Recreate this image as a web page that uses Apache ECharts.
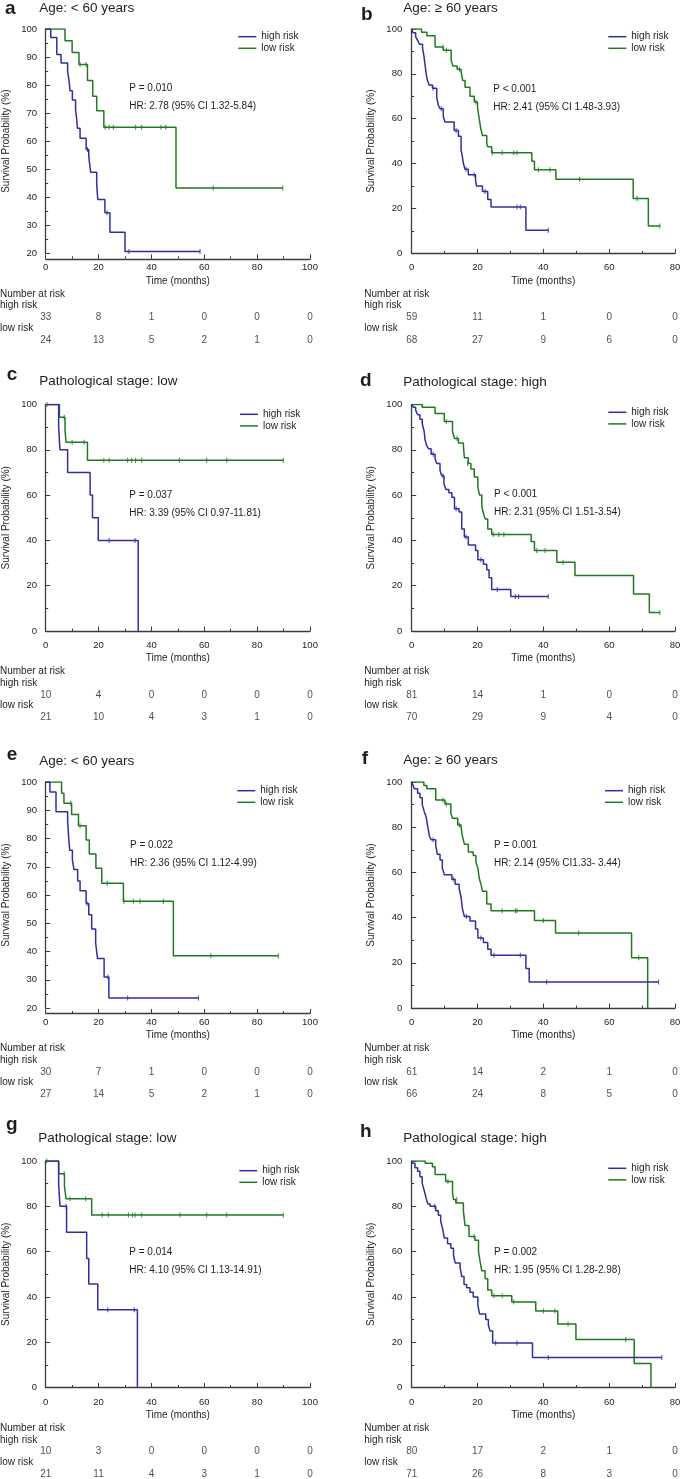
<!DOCTYPE html>
<html>
<head>
<meta charset="utf-8">
<script src="https://cdn.jsdelivr.net/npm/echarts@6/dist/echarts.min.js"></script>
<style>
html,body{margin:0;padding:0;background:#fff;}
#chart{width:685px;height:1479px;}
</style>
</head>
<body>
<div id="chart"></div>
<script>
// ---- data: [time (months), survival %] ----
var aHigh = [[0,100],[1.9,97.0],[4.2,90.9],[5.8,87.9],[8.3,84.8],[8.8,81.8],[9.2,78.0],[10.1,74.7],[11.3,71.3],[11.7,68.0],[12.0,64.6],[13.0,61.0],[15.3,57.0],[16.3,54.5],[17.0,48.9],[19.3,44.4],[19.7,39.2],[22.4,34.5],[24.3,27.5],[30.0,20.6],[58.4,20.6]];
var aLow = [[0,100],[7.3,95.8],[10.0,91.6],[12.6,87.3],[15.8,81.6],[17.8,76.0],[19.3,70.8],[22.0,65.0],[49.3,43.3],[89.7,43.3]];
var aHighCens = [[15.8,57.0],[23.2,34.5],[31.5,20.6],[58.4,20.6]];
var aLowCens = [[13.0,87.3],[15.3,87.3],[22.5,65],[24.0,65],[25.6,65],[34.0,65],[36.3,65],[43.6,65],[45.4,65],[63.4,43.3],[89.7,43.3]];

var bHigh = [[0,100],[0.4,98.3],[1.2,96.6],[1.8,94.9],[2.4,93.2],[3.3,91.5],[3.7,88.1],[4.0,84.7],[4.4,80.0],[4.8,77.0],[5.3,75.0],[6.3,73.6],[7.6,69.5],[8.1,66.0],[8.6,64.5],[9.6,61.0],[10.1,58.5],[12.9,54.7],[14.2,52.2],[15.0,46.0],[15.3,44.0],[15.7,40.0],[16.2,37.5],[17.2,35.0],[19.4,32.5],[19.7,30.0],[21.5,27.5],[23.1,24.0],[24.1,20.6],[34.7,10.3],[41.5,10.3]];
var bLow = [[0,100],[3.0,98.5],[4.6,97.0],[7.1,92.0],[9.6,90.5],[12.0,86.0],[12.5,83.5],[13.8,82.0],[15.0,81.0],[15.5,77.0],[16.2,74.0],[17.7,70.0],[19.0,67.5],[20.0,65.0],[20.5,60.0],[21.0,55.5],[21.5,52.5],[22.8,49.0],[23.1,47.5],[24.3,44.8],[36.5,41.0],[37.3,37.3],[43.8,33.0],[67.3,24.4],[71.9,12.2],[75.4,12.2]];
var bHighCens = [[6.5,73.6],[9.0,64.5],[13.5,54.7],[16.5,37.5],[19.0,35.0],[22.3,27.5],[32.0,20.6],[33.0,20.6],[41.5,10.3]];
var bLowCens = [[9.5,92.0],[10.5,90.5],[14.5,82.0],[19.5,67.5],[24.5,44.8],[27.5,44.8],[31.0,44.8],[32.0,44.8],[38.5,37.3],[42.0,37.3],[51.0,33.0],[68.5,24.4],[75.4,12.2]];

var cHigh = [[0,100],[4.9,90],[5.4,80],[8.3,70],[16.8,60],[17.7,50],[19.9,40],[35.0,0]];
var cLow = [[0,100],[5.2,94.4],[7.3,88.9],[7.7,83.3],[15.8,75.4],[89.9,75.4]];
var cHighCens = [[24.0,40],[33.8,40]];
var cLowCens = [[0.5,100],[7.0,94.4],[10.0,83.3],[14.5,83.3],[22.0,75.4],[24.0,75.4],[31.0,75.4],[32.5,75.4],[34.0,75.4],[36.3,75.4],[50.6,75.4],[60.9,75.4],[68.5,75.4],[89.9,75.4]];

var dHigh = [[0,100],[0.5,98.8],[1.2,97.5],[1.8,95.5],[2.5,93.5],[3.2,91.5],[3.8,88.0],[4.05,84.5],[4.5,82.0],[5.1,80.5],[5.9,78.0],[7.1,76.0],[7.6,74.0],[8.6,71.0],[9.1,68.5],[9.8,65.0],[10.4,62.5],[11.3,61.0],[12.2,59.0],[13.0,54.0],[14.4,52.5],[15.2,45.0],[16.0,41.5],[17.2,38.0],[19.4,35.5],[20.1,31.5],[21.8,29.5],[22.8,27.0],[23.5,23.5],[24.3,18.3],[30.1,15.2],[41.5,15.2]];
var dLow = [[0,100],[3.2,98.8],[7.1,96.0],[9.9,92.5],[12.4,88.0],[13.0,85.0],[14.2,83.0],[15.7,82.0],[16.0,76.5],[17.2,74.0],[18.0,71.5],[19.0,68.0],[20.1,63.5],[20.6,60.0],[21.3,55.0],[21.8,52.0],[22.3,49.5],[23.1,45.0],[24.3,42.6],[36.3,39.5],[37.3,35.5],[44.1,30.4],[49.6,24.5],[67.4,16.3],[72.2,8.2],[75.4,8.2]];
var dHighCens = [[6.5,78.0],[9.5,68.5],[13.5,54.0],[16.5,41.5],[21.0,31.5],[26.0,18.3],[31.5,15.2],[32.5,15.2],[41.5,15.2]];
var dLowCens = [[10.5,92.5],[13.8,85.0],[17.0,74.0],[24.8,42.6],[26.5,42.6],[28.0,42.6],[38.0,35.5],[40.5,35.5],[46.0,30.4],[75.4,8.2]];

var eHigh = [[0,100],[1.6,96.5],[3.9,89.5],[8.3,86.0],[8.8,79.0],[9.1,75.8],[10.1,72.4],[10.7,69.0],[12.1,65.0],[13.0,61.5],[15.3,57.0],[16.3,53.0],[17.4,48.0],[18.9,43.0],[19.6,37.5],[22.1,31.0],[23.9,23.5],[57.8,23.5]];
var eLow = [[0,100],[6.0,96.0],[6.9,92.5],[9.8,88.5],[12.4,84.5],[15.3,79.5],[16.5,74.5],[19.0,69.5],[21.2,64.2],[29.4,57.8],[48.3,38.5],[88.0,38.5]];
var eHighCens = [[15.6,57.0],[23.5,31.0],[31.0,23.5],[57.8,23.5]];
var eLowCens = [[9.5,92.5],[13.0,84.5],[23.3,64.2],[29.6,57.8],[33.2,57.8],[35.7,57.8],[44.5,57.8],[62.5,38.5],[88.0,38.5]];

var fHigh = [[0,100],[0.3,99.0],[0.8,97.0],[1.8,95.0],[2.5,93.0],[3.2,90.0],[3.8,87.0],[4.4,84.5],[4.9,80.0],[5.4,76.0],[5.9,74.5],[7.3,72.0],[7.8,68.0],[8.6,65.5],[9.3,62.0],[9.9,59.0],[12.2,57.0],[13.2,54.8],[14.4,53.0],[15.0,49.0],[15.4,44.0],[16.0,40.5],[17.7,38.5],[19.4,35.0],[20.1,31.0],[21.8,29.0],[23.1,26.0],[24.1,23.3],[34.7,17.5],[35.7,11.5],[75.0,11.5]];
var fLow = [[0,100],[3.7,98.5],[4.6,97.0],[7.3,92.0],[10.1,90.3],[11.9,86.0],[12.4,84.0],[14.0,81.0],[15.0,80.0],[15.4,76.0],[16.0,72.5],[17.2,69.0],[18.7,67.5],[19.5,64.5],[20.1,62.0],[20.5,57.5],[21.0,55.0],[21.5,51.7],[22.8,46.0],[24.1,43.0],[37.3,38.7],[43.7,33.2],[66.8,22.2],[71.7,0]];
var fHighCens = [[6.5,74.5],[12.6,57.0],[16.6,40.5],[21.0,31.0],[25.0,23.3],[33.0,23.3],[41.0,11.5],[75.0,11.5]];
var fLowCens = [[9.5,92.0],[10.5,90.3],[14.5,81.0],[27.5,43.0],[31.5,43.0],[32.0,43.0],[40.0,38.7],[50.7,33.2],[69.0,22.2]];

var gHigh = [[0,100],[4.9,90],[5.4,80],[7.9,68.5],[15.5,57.0],[16.3,45.7],[19.7,34.3],[34.7,0]];
var gLow = [[0,100],[4.9,94.4],[7.1,88.9],[7.7,83.3],[17.4,76.2],[89.9,76.2]];
var gHighCens = [[7.7,80],[23.5,34.3],[33.5,34.3]];
var gLowCens = [[0.4,100],[7.0,94.4],[9.2,83.3],[15.1,83.3],[21.4,76.2],[23.7,76.2],[31.3,76.2],[32.8,76.2],[33.8,76.2],[36.3,76.2],[50.8,76.2],[60.9,76.2],[68.5,76.2],[89.9,76.2]];

var hHigh = [[0,100],[0.3,99.0],[1.0,97.0],[1.8,95.5],[2.5,93.0],[3.2,90.0],[3.8,87.0],[4.4,83.5],[4.9,81.0],[5.6,80.0],[7.3,78.0],[8.1,76.0],[8.8,73.5],[9.4,70.0],[9.9,66.0],[10.9,63.5],[11.9,61.5],[12.7,58.5],[13.2,55.0],[14.7,53.0],[15.2,49.0],[15.9,45.5],[16.7,44.0],[17.7,42.0],[18.7,40.0],[20.1,36.5],[20.6,32.5],[22.5,30.0],[23.3,27.5],[23.8,25.0],[24.6,19.7],[36.7,13.3],[76.0,13.3]];
var hLow = [[0,100],[4.1,99.0],[6.3,97.5],[7.1,94.0],[10.3,91.0],[12.4,86.0],[12.7,83.0],[13.4,81.5],[15.7,78.0],[16.2,71.5],[17.4,66.7],[19.2,65.0],[20.3,60.0],[20.8,55.5],[21.3,51.5],[22.3,48.0],[23.1,43.0],[24.3,40.5],[30.4,37.7],[37.7,33.8],[44.4,28.0],[49.9,21.2],[67.6,10.6],[72.7,0]];
var hHighCens = [[7.0,80.0],[25.5,19.7],[32.0,19.7],[41.5,13.3],[76.0,13.3]];
var hLowCens = [[11.0,91.0],[13.7,83.0],[19.0,66.7],[25.0,40.5],[27.5,40.5],[31.0,37.7],[40.0,33.8],[43.5,33.8],[47.5,28.0],[65.0,21.2]];

// number at risk
var riskTimesLeft = [0, 20, 40, 60, 80, 100];
var riskTimesRight = [0, 20, 40, 60, 80];
var aRiskHigh = [33, 8, 1, 0, 0, 0], aRiskLow = [24, 13, 5, 2, 1, 0];
var bRiskHigh = [59, 11, 1, 0, 0], bRiskLow = [68, 27, 9, 6, 0];
var cRiskHigh = [10, 4, 0, 0, 0, 0], cRiskLow = [21, 10, 4, 3, 1, 0];
var dRiskHigh = [81, 14, 1, 0, 0], dRiskLow = [70, 29, 9, 4, 0];
var eRiskHigh = [30, 7, 1, 0, 0, 0], eRiskLow = [27, 14, 5, 2, 1, 0];
var fRiskHigh = [61, 14, 2, 1, 0], fRiskLow = [66, 24, 8, 5, 0];
var gRiskHigh = [10, 3, 0, 0, 0, 0], gRiskLow = [21, 11, 4, 3, 1, 0];
var hRiskHigh = [80, 17, 2, 1, 0], hRiskLow = [71, 26, 8, 3, 0];

// texts
var letters = ['a', 'b', 'c', 'd', 'e', 'f', 'g', 'h'];
var titles = ['Age: < 60 years', 'Age: \u2265 60 years', 'Pathological stage: low', 'Pathological stage: high',
              'Age: < 60 years', 'Age: \u2265 60 years', 'Pathological stage: low', 'Pathological stage: high'];
var pTexts = ['P = 0.010', 'P < 0.001', 'P = 0.037', 'P < 0.001', 'P = 0.022', 'P = 0.001', 'P = 0.014', 'P = 0.002'];
var hrTexts = ['HR: 2.78 (95% CI 1.32-5.84)', 'HR: 2.41 (95% CI 1.48-3.93)', 'HR: 3.39 (95% CI 0.97-11.81)',
               'HR: 2.31 (95% CI 1.51-3.54)', 'HR: 2.36 (95% CI 1.12-4.99)', 'HR: 2.14 (95% CI1.33- 3.44)',
               'HR: 4.10 (95% CI 1.13-14.91)', 'HR: 1.95 (95% CI 1.28-2.98)'];
var yMins = [20, 0, 0, 0, 20, 0, 0, 0];
var yIntervals = [10, 20, 20, 20, 10, 20, 20, 20];

var curves = [
  [aHigh, aLow, aHighCens, aLowCens, aRiskHigh, aRiskLow],
  [bHigh, bLow, bHighCens, bLowCens, bRiskHigh, bRiskLow],
  [cHigh, cLow, cHighCens, cLowCens, cRiskHigh, cRiskLow],
  [dHigh, dLow, dHighCens, dLowCens, dRiskHigh, dRiskLow],
  [eHigh, eLow, eHighCens, eLowCens, eRiskHigh, eRiskLow],
  [fHigh, fLow, fHighCens, fLowCens, fRiskHigh, fRiskLow],
  [gHigh, gLow, gHighCens, gLowCens, gRiskHigh, gRiskLow],
  [hHigh, hLow, hHighCens, hLowCens, hRiskHigh, hRiskLow]
];

// ---- layout ----
var FONT = 'Liberation Sans, Arial, sans-serif';
var BLUE = '#2f2fa3', GREEN = '#217a21', AXIS = '#3c3c3c', TXT = '#1e1e1e';
var rowTop = [29, 404.5, 782, 1161];
var rowH = [224.3, 226.5, 226, 226.5];
var X_OFF = 5.5;
var colGrid = [{left: 45.7, width: 264.3, yOff: 5.7, xMax: 100, labelX: 0},
               {left: 411.7, width: 263.3, yOff: 6.5, xMax: 80, labelX: 364.3}];
var letterPos = [[5, 8.3], [361, 15], [6.7, 374.3], [360, 381], [6.7, 755], [361.7, 759], [6, 1125], [360, 1131.7]];
var titlePos = [[39.3, 8], [403.3, 8], [39.3, 381], [403.3, 382], [39.3, 761], [403.3, 760.3], [38.3, 1138.6], [403.3, 1138.6]];
var pPos = [[129.3, 88.7, 106.7], [493.3, 89.3, 107.3], [129.3, 495.7, 513.3], [494, 494.3, 512.7],
            [130, 845, 863.3], [494, 845, 863.3], [129.3, 1252.3, 1270.7], [494, 1252.3, 1270.7]];
var legendPos = [[238.3, 36.7], [608.3, 36.7], [240, 414.3], [608.3, 412.3],
                 [237.3, 790.7], [605, 790.7], [239.3, 1170.7], [608.3, 1168.3]];

var grids = [], xAxes = [], yAxes = [], series = [], legends = [], graphics = [];

function txt(x, y, s, size, weight) {
  graphics.push({type: 'text', x: x, y: y, silent: true,
    style: {text: s, fontSize: size, fontWeight: weight || 'normal', fontFamily: FONT, fill: TXT, verticalAlign: 'middle'}});
}

function buildPanel(i) {
  var col = i % 2, row = Math.floor(i / 2);
  var cg = colGrid[col];
  var plotTop = rowTop[row], plotH = rowH[row];
  var axisY = plotTop + plotH + X_OFF;
  var times = col === 0 ? riskTimesLeft : riskTimesRight;
  var c = curves[i];

  // plot grid
  grids.push({left: cg.left, top: plotTop, width: cg.width, height: plotH});
  var pg = grids.length - 1;
  xAxes.push({gridIndex: pg, type: 'value', min: 0, max: cg.xMax, interval: 20, offset: X_OFF,
    axisLine: {show: true, lineStyle: {color: AXIS, width: 1.3}},
    axisTick: {show: true, inside: true, length: 4.5, lineStyle: {color: AXIS}},
    minorTick: {show: true, splitNumber: 2, length: 2.5, lineStyle: {color: AXIS}},
    splitLine: {show: false},
    axisLabel: {fontSize: 9.5, fontFamily: FONT, color: TXT, margin: 4},
    name: 'Time (months)', nameLocation: 'middle', nameGap: 17,
    nameTextStyle: {fontSize: 10, fontFamily: FONT, color: TXT}});
  yAxes.push({gridIndex: pg, type: 'value', min: yMins[i], max: 100, interval: yIntervals[i], offset: cg.yOff,
    axisLine: {show: true, lineStyle: {color: AXIS, width: 1.3}},
    axisTick: {show: true, inside: true, length: 4.5, lineStyle: {color: AXIS}},
    minorTick: {show: true, splitNumber: 2, length: 2.5, lineStyle: {color: AXIS}},
    splitLine: {show: false},
    axisLabel: {fontSize: 9.5, fontFamily: FONT, color: TXT, margin: 3},
    name: 'Survival Probability (%)', nameLocation: 'middle', nameGap: 29,
    nameTextStyle: {fontSize: 10, fontFamily: FONT, color: TXT}});
  var ax = xAxes.length - 1;

  series.push({name: 'high risk', type: 'line', step: 'end', xAxisIndex: ax, yAxisIndex: ax, data: c[0],
    showSymbol: false, silent: true, color: BLUE, lineStyle: {width: 1.5, color: BLUE}, z: 3});
  series.push({name: 'low risk', type: 'line', step: 'end', xAxisIndex: ax, yAxisIndex: ax, data: c[1],
    showSymbol: false, silent: true, color: GREEN, lineStyle: {width: 1.5, color: GREEN}, z: 2});
  series.push({name: 'high censored', type: 'scatter', xAxisIndex: ax, yAxisIndex: ax, data: c[2],
    symbol: 'rect', symbolSize: [1.1, 5], silent: true, itemStyle: {color: BLUE}, z: 4});
  series.push({name: 'low censored', type: 'scatter', xAxisIndex: ax, yAxisIndex: ax, data: c[3],
    symbol: 'rect', symbolSize: [1.1, 5], silent: true, itemStyle: {color: GREEN}, z: 4});

  // number-at-risk table grid (row 1 = high risk, row 0 = low risk)
  grids.push({left: cg.left, top: axisY + 58.3, width: cg.width, height: 22.8});
  var tg = grids.length - 1;
  xAxes.push({gridIndex: tg, type: 'value', min: 0, max: cg.xMax, show: false});
  yAxes.push({gridIndex: tg, type: 'value', min: 0, max: 1, show: false});
  var tx = xAxes.length - 1;
  var tableData = [];
  for (var k = 0; k < times.length; k++) {
    tableData.push([times[k], 1, c[4][k]]);
    tableData.push([times[k], 0, c[5][k]]);
  }
  series.push({name: 'at risk', type: 'scatter', xAxisIndex: tx, yAxisIndex: tx, data: tableData,
    symbolSize: 1, silent: true, itemStyle: {color: 'rgba(0,0,0,0)'},
    label: {show: true, position: 'inside', fontSize: 10, fontFamily: FONT, color: TXT,
      formatter: function (p) { return String(p.value[2]); }}});

  legends.push({orient: 'vertical', left: legendPos[i][0], top: legendPos[i][1] - 5.8,
    data: ['high risk', 'low risk'], icon: 'rect', itemWidth: 18, itemHeight: 1.5, itemGap: 0,
    selectedMode: false, padding: 0,
    textStyle: {fontSize: 10, fontFamily: FONT, color: TXT, lineHeight: 11.6}});

  txt(letterPos[i][0], letterPos[i][1], letters[i], 19, 'bold');
  txt(titlePos[i][0], titlePos[i][1], titles[i], 13.5);
  txt(pPos[i][0], pPos[i][1], pTexts[i], 10);
  txt(pPos[i][0], pPos[i][2], hrTexts[i], 10);
  txt(cg.labelX, axisY + 35, 'Number at risk', 10);
  txt(cg.labelX, axisY + 46.8, 'high risk', 10);
  txt(cg.labelX, axisY + 69.2, 'low risk', 10);
}

for (var p = 0; p < 8; p++) buildPanel(p);

var chart = echarts.init(document.getElementById('chart'), null, {renderer: 'canvas'});
chart.setOption({
  animation: false,
  backgroundColor: '#ffffff',
  textStyle: {fontFamily: FONT},
  grid: grids,
  xAxis: xAxes,
  yAxis: yAxes,
  legend: legends,
  series: series,
  graphic: graphics
});
</script>
</body>
</html>
